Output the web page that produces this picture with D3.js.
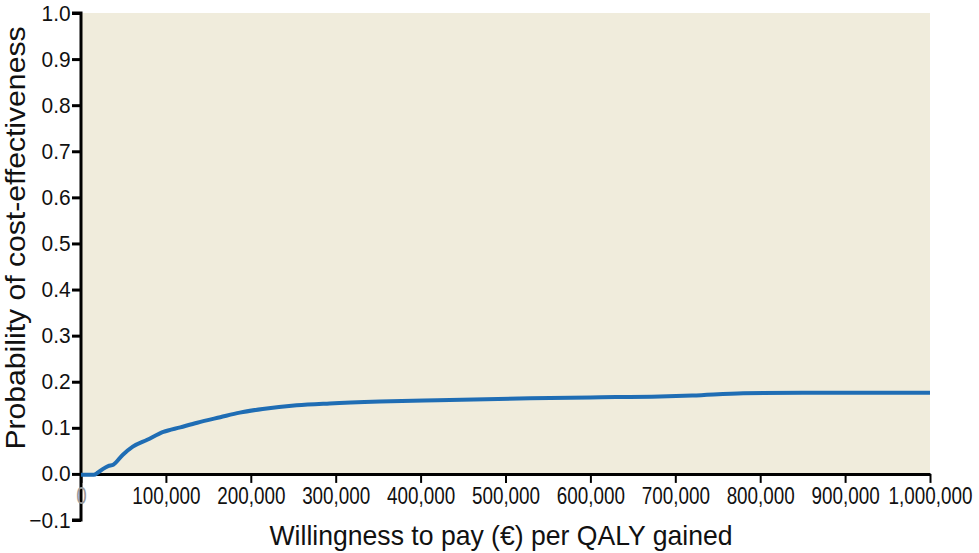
<!DOCTYPE html>
<html>
<head>
<meta charset="utf-8">
<script src="https://cdn.jsdelivr.net/npm/d3@7"></script>
<style>
  body { margin: 0; background: #fff; }
  text { font-family: "Liberation Sans", Arial, sans-serif; }
</style>
</head>
<body>
<div id="chart"></div>
<script>
// willingness to pay values (euro) and probability of cost-effectiveness
var wtp  = [0, 15000, 20000, 26000, 32000, 38000, 49000, 61000, 78000, 97000, 117000, 137000, 164000, 187000, 214000, 254000, 293000, 352000, 420000, 529000, 600000, 682000, 720000, 780000, 850000, 1000000];
var prob = [-0.002, -0.002, 0.003, 0.011, 0.017, 0.02, 0.041, 0.059, 0.074, 0.091, 0.101, 0.111, 0.123, 0.133, 0.141, 0.149, 0.153, 0.157, 0.16, 0.164, 0.166, 0.168, 0.170, 0.175, 0.176, 0.176];

var xTicks = [0, 100000, 200000, 300000, 400000, 500000, 600000, 700000, 800000, 900000, 1000000];
var yTicks = [-0.1, 0.0, 0.1, 0.2, 0.3, 0.4, 0.5, 0.6, 0.7, 0.8, 0.9, 1.0];

var margin = {top: 13, right: 49, bottom: 33, left: 81},
    width = 979 - margin.left - margin.right,
    height = 553 - margin.top - margin.bottom;

var svg = d3.select("#chart")
  .append("svg")
    .attr("width", 979)
    .attr("height", 553)
  .append("g")
    .attr("transform", "translate(" + margin.left + "," + margin.top + ")");

var x = d3.scaleLinear().domain([0, 1000000]).range([0, width]);
var y = d3.scaleLinear().domain([-0.1, 1.0]).range([height, 0]);

// panel background (0 to 1 only)
svg.append("rect")
  .attr("x", 0)
  .attr("y", y(1))
  .attr("width", x(1000000))
  .attr("height", y(0) - y(1))
  .style("fill", "#f0ecdc");

// Y axis
var yAxis = svg.append("g")
  .call(d3.axisLeft(y).tickValues(yTicks).tickSize(9).tickPadding(2)
    .tickFormat(function(d) { return d < 0 ? "\u22120.1" : d3.format(".1f")(d); }));
yAxis.select(".domain").attr("stroke-width", 3).attr("d", "M-9," + y(-0.1) + "H0V" + y(1) + "H-9");
yAxis.selectAll(".tick line").attr("stroke-width", 3);
yAxis.selectAll(".tick text")
  .style("font-size", "22px")
  .attr("fill", "#111")
  .attr("transform", "scale(0.95,1)");

// X axis at y = 0
var xAxis = svg.append("g")
  .attr("transform", "translate(0," + y(0) + ")")
  .call(d3.axisBottom(x).tickValues(xTicks).tickSize(9).tickSizeOuter(0).tickPadding(5)
    .tickFormat(d3.format(",")));
xAxis.select(".domain").attr("stroke-width", 3);
xAxis.selectAll(".tick line").attr("stroke-width", 2);
xAxis.selectAll(".tick text")
  .style("font-size", "23px")
  .attr("fill", "#111")
  .attr("transform", "scale(0.82,1)");
xAxis.selectAll(".tick text").filter(function(d) { return d === 0; }).attr("fill", "#999");

// line
svg.append("path")
  .datum(wtp.map(function(d, i) { return [d, prob[i]]; }))
  .attr("fill", "none")
  .attr("stroke", "#1f6db4")
  .attr("stroke-width", 4)
  .attr("stroke-linejoin", "round")
  .attr("d", d3.line()
    .x(function(d) { return x(d[0]); })
    .y(function(d) { return y(d[1]); })
    .curve(d3.curveMonotoneX));

// axis titles
svg.append("text")
  .attr("text-anchor", "middle")
  .attr("x", 501 - margin.left)
  .attr("y", 545 - margin.top)
  .style("font-size", "28px")
  .attr("fill", "#111")
  .attr("textLength", 463)
  .attr("lengthAdjust", "spacingAndGlyphs")
  .text("Willingness to pay (\u20ac) per QALY gained");

svg.append("text")
  .attr("text-anchor", "middle")
  .attr("transform", "rotate(-90)")
  .attr("x", -(238 - margin.top))
  .attr("y", 25 - margin.left)
  .style("font-size", "28px")
  .attr("fill", "#111")
  .attr("textLength", 423)
  .attr("lengthAdjust", "spacingAndGlyphs")
  .text("Probability of cost-effectiveness");
</script>
</body>
</html>
